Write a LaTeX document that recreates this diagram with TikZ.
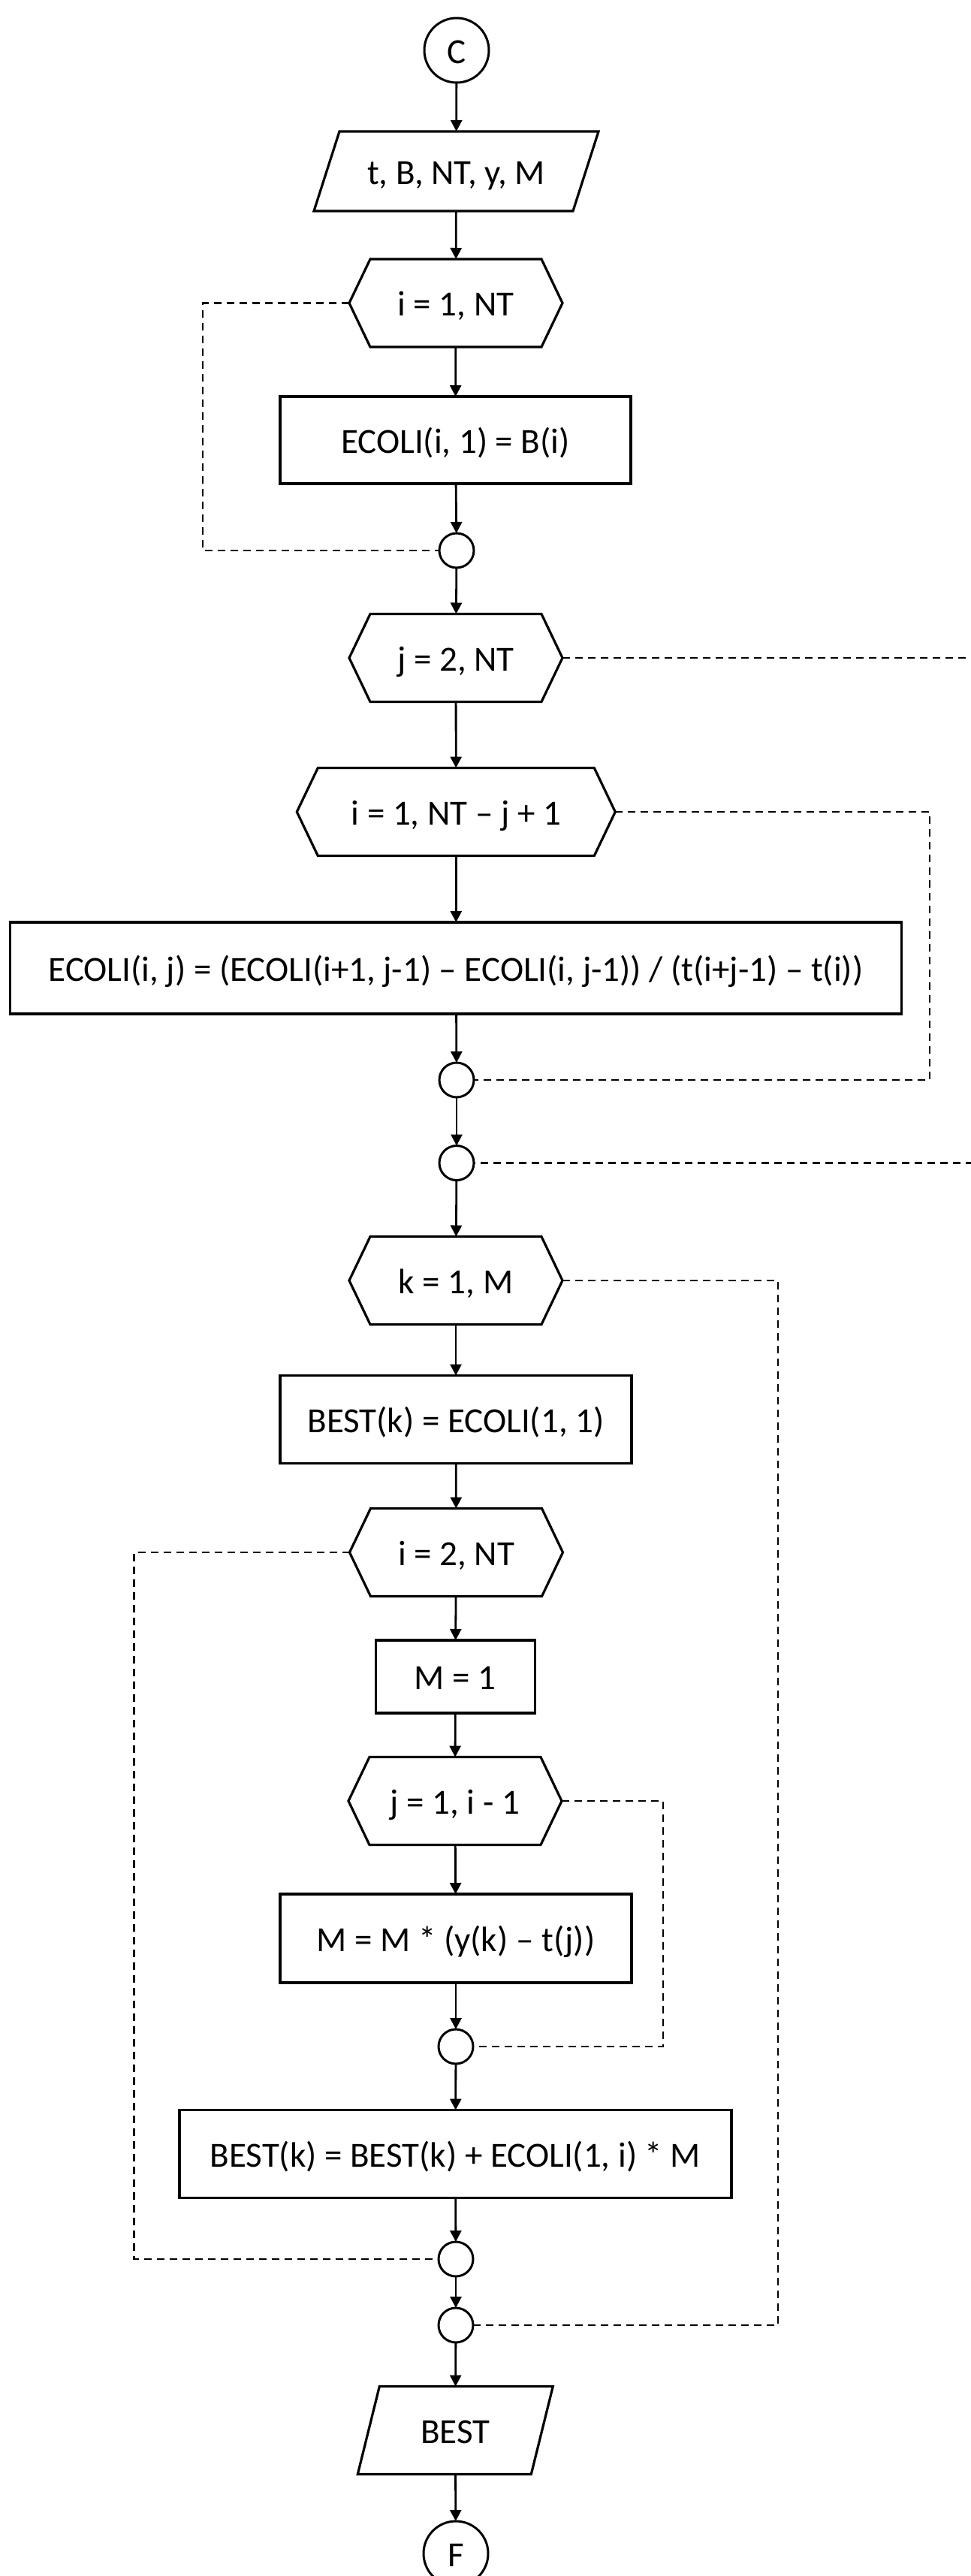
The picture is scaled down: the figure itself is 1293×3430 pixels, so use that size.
\documentclass[tikz,border=0pt]{standalone}
\usepackage{fontspec}
\setmainfont{Carlito}
\usetikzlibrary{arrows.meta}

\tikzset{
  x=1pt, y=-1pt,
  lbl/.style={inner sep=0pt, outer sep=0pt, text height=34pt, text depth=0pt,
    font=\fontsize{47}{56}\selectfont},
  outline/.style={draw=black, line width=3.2pt, line join=miter},
  procbox/.style={lbl, rectangle, draw=black, line width=3.2pt},
  hexbody/.style={lbl, rectangle, minimum height=117pt},
  iobody/.style={lbl, rectangle},
  terminal/.style={lbl, circle, draw=black, line width=3pt, minimum size=86pt},
  junction/.style={circle, draw=black, line width=3pt, minimum size=46pt, inner sep=0pt, outer sep=0pt},
  flow/.style={line width=2.8pt, -{Triangle[length=15pt,width=15pt]}},
  loopline/.style={line width=2.2pt, dash pattern=on 10pt off 7pt},
}

% loop header: #1 name, #2 centre, #3 width of the flat top, #4 label
\newcommand\loophex[4]{%
  \node[hexbody, minimum width=#3pt] (#1) at #2 {#4};
  \draw[outline] (#1.north west) -- (#1.north east)
    -- ([xshift=28pt]#1.east) coordinate (#1-r)
    -- (#1.south east) -- (#1.south west)
    -- ([xshift=-28pt]#1.west) coordinate (#1-l) -- cycle;
}

% data box: #1 name, #2 options, #3 centre, #4 half slant, #5 label
\newcommand\iobox[5]{%
  \node[iobody, #2] (#1) at #3 {#5};
  \draw[outline] ([xshift=#4pt]#1.north west) -- ([xshift=#4pt]#1.north east)
    -- ([xshift=-#4pt]#1.south east) -- ([xshift=-#4pt]#1.south west) -- cycle;
}

\begin{document}
\begin{tikzpicture}
\useasboundingbox (0,0) rectangle (1293,3430);
\clip (0,0) rectangle (1293,3430);

% nodes, top to bottom
\node[terminal] (start) at (608,67) {C};
\iobox{input}{minimum width=345pt, minimum height=106pt}{(607.5,228)}{17}{t, B, NT, y, M}
\loophex{hexA}{(607,403.5)}{228}{i = 1, NT}
\node[procbox, minimum width=467pt, minimum height=116pt] (init) at (606.5,586) {ECOLI(i, 1) = B(i)};
\node[junction] (endA) at (608,733) {};
\loophex{hexJ}{(607,876)}{228}{j = 2, NT}
\loophex{hexI}{(607.3,1081)}{368}{i = 1, NT – j + 1}
\node[procbox, minimum width=1187pt, minimum height=122pt] (diff) at (607.3,1289)
  {ECOLI(i, j) = (ECOLI(i+1, j-1) – ECOLI(i, j-1)) / (t(i+j-1) – t(i))};
\node[junction] (endI) at (608,1438) {};
\node[junction] (endJ) at (608,1548.5) {};
\loophex{hexK}{(607,1705)}{228}{k = 1, M}
\node[procbox, minimum width=468pt, minimum height=117pt] (bestinit) at (607,1890) {BEST(k) = ECOLI(1, 1)};
\loophex{hexI2}{(607.5,2067)}{228}{i = 2, NT}
\node[procbox, minimum width=212pt, minimum height=97pt] (mone) at (606.3,2232.5) {M = 1};
\loophex{hexJ2}{(606,2398)}{228}{j = 1, i - 1}
\node[procbox, minimum width=468pt, minimum height=118pt] (prod) at (607,2581) {M = M * (y(k) – t(j))};
\node[junction] (endJ2) at (607,2725) {};
\node[procbox, minimum width=735pt, minimum height=117pt] (accum) at (606.5,2868) {BEST(k) = BEST(k) + ECOLI(1, i) * M};
\node[junction] (endI2) at (607,3008) {};
\node[junction] (endK) at (607,3096) {};
\iobox{output}{minimum width=231pt, minimum height=117pt}{(606.3,3236)}{14.5}{BEST}
\node[terminal] (stop) at (607,3400) {F};

% main flow
\draw[flow] (start) -- (input);
\draw[flow] (input) -- (hexA);
\draw[flow] (hexA) -- (init);
\draw[flow] (init) -- (endA);
\draw[flow] (endA) -- (hexJ);
\draw[flow] (hexJ) -- (hexI);
\draw[flow] (hexI) -- (diff);
\draw[flow] (diff) -- (endI);
\draw[flow] (endI) -- (endJ);
\draw[flow] (endJ) -- (hexK);
\draw[flow] (hexK) -- (bestinit);
\draw[flow] (bestinit) -- (hexI2);
\draw[flow] (hexI2) -- (mone);
\draw[flow] (mone) -- (hexJ2);
\draw[flow] (hexJ2) -- (prod);
\draw[flow] (prod) -- (endJ2);
\draw[flow] (endJ2) -- (accum);
\draw[flow] (accum) -- (endI2);
\draw[flow] (endI2) -- (endK);
\draw[flow] (endK) -- (output);
\draw[flow] (output) -- (stop);

% loop returns
\draw[loopline] (hexA-l) -- ++(-195,0) |- (endA.west);
\draw[loopline] (hexJ-r) -- ++(600,0) |- (endJ.east);
\draw[loopline] (hexI-r) -- ++(419,0) |- (endI.east);
\draw[loopline] (hexK-r) -- ++(287,0) |- (endK.east);
\draw[loopline] (hexI2-l) -- ++(-287,0) |- (endI2.west);
\draw[loopline] (hexJ2-r) -- ++(135,0) |- (endJ2.east);
\end{tikzpicture}
\end{document}
